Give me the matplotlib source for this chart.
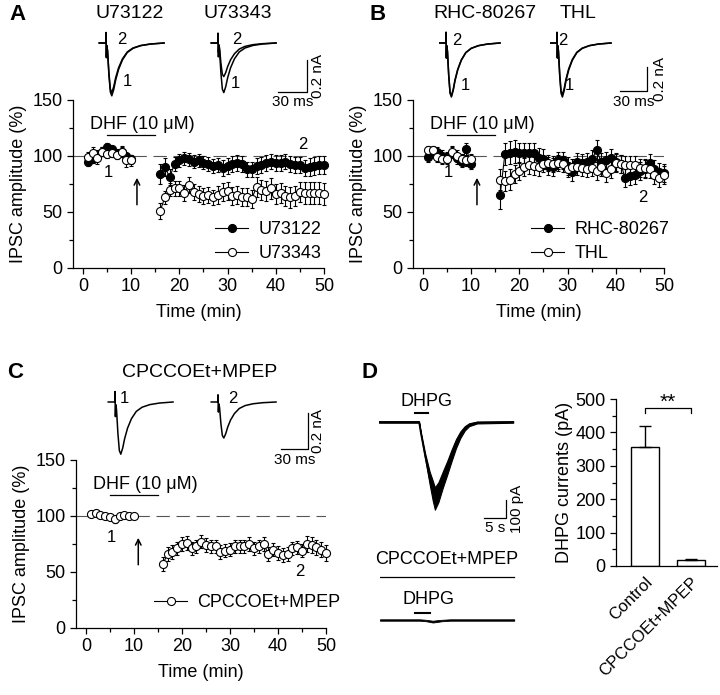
import numpy as np
import matplotlib.pyplot as plt
from matplotlib.lines import Line2D

plt.rcParams['font.family'] = ['Liberation Sans', 'DejaVu Sans']

# ---- data ----
minutes = list(range(1, 11)) + list(range(16, 51))

A_u73122 = [95, 97, 101, 104, 108, 106, 102, 104, 100, 97,
            84, 90, 81, 93, 96, 98, 97, 95, 96, 94,
            93, 91, 92, 89, 91, 93, 94, 93, 88, 88,
            91, 92, 94, 95, 94, 94, 95, 93, 92, 92,
            89, 90, 91, 92, 92]
A_u73122_err = [4, 3, 4, 4, 4, 3, 4, 4, 3, 4,
                9, 8, 7, 6, 6, 6, 6, 6, 6, 6,
                6, 6, 6, 7, 7, 7, 7, 7, 7, 7,
                7, 7, 7, 7, 7, 7, 7, 7, 7, 7,
                7, 8, 8, 8, 8]
A_u73343 = [99, 103, 98, 104, 102, 103, 101, 104, 96, 96,
            51, 63, 70, 71, 71, 67, 74, 68, 66, 64,
            65, 63, 65, 68, 69, 64, 65, 63, 63, 62,
            72, 70, 69, 71, 66, 67, 64, 63, 64, 68,
            67, 67, 67, 67, 66]
A_u73343_err = [5, 5, 5, 4, 4, 4, 4, 5, 6, 5,
                7, 6, 6, 7, 7, 7, 7, 7, 7, 7,
                7, 7, 8, 8, 8, 8, 8, 8, 8, 8,
                9, 9, 9, 9, 9, 9, 9, 9, 9, 9,
                10, 10, 10, 10, 10]

B_rhc = [99, 103, 104, 100, 99, 103, 98, 95, 106, 93,
         65, 102, 103, 104, 103, 103, 103, 103, 98, 97,
         91, 90, 96, 96, 91, 86, 95, 94, 95, 97,
         105, 95, 96, 98, 95, 93, 80, 82, 83, 87,
         88, 94, 88, 86, 85]
B_rhc_err = [4, 4, 4, 5, 5, 5, 5, 5, 6, 5,
             12, 10, 10, 10, 9, 9, 9, 9, 9, 9,
             8, 8, 8, 8, 8, 8, 8, 8, 8, 8,
             9, 8, 8, 8, 8, 8, 8, 8, 8, 8,
             8, 8, 8, 8, 8]
B_thl = [105, 105, 99, 97, 97, 104, 100, 97, 96, 97,
         79, 78, 79, 84, 87, 90, 92, 91, 90, 93,
         94, 93, 94, 93, 88, 90, 90, 89, 88, 89,
         87, 90, 85, 88, 94, 93, 92, 92, 92, 89,
         89, 88, 83, 80, 83]
B_thl_err = [4, 4, 4, 4, 4, 5, 5, 5, 5, 5,
             9, 9, 9, 8, 8, 8, 8, 8, 8, 7,
             7, 7, 7, 7, 7, 7, 7, 7, 7, 7,
             8, 8, 8, 8, 8, 8, 8, 8, 8, 8,
             8, 8, 8, 8, 8]

C_cpcc = [102, 103, 101, 100, 99, 97, 100, 101, 100, 100,
          57, 66, 68, 71, 75, 76, 71, 73, 77, 74,
          73, 73, 68, 69, 70, 73, 73, 73, 75, 71,
          73, 75, 66, 70, 67, 65, 66, 71, 72, 69,
          75, 74, 72, 70, 67]
C_cpcc_err = [2, 2, 2, 2, 2, 3, 2, 2, 2, 2,
              6, 6, 6, 6, 6, 6, 6, 6, 6, 6,
              6, 6, 6, 6, 6, 6, 6, 6, 6, 6,
              6, 6, 6, 6, 6, 6, 6, 6, 6, 6,
              7, 7, 7, 7, 7]

# example IPSC traces (time in ms after stimulus, current as fraction of peak)
ipsc_t = [-7, 0, 0, 0.4, 0.8, 1.6, 3, 4.5, 6, 8, 10, 13, 17, 22, 28, 36, 46, 60]
ipsc_shape = [0, 0, 0.2, -0.28, -0.05, -0.15, -0.6, -0.93, -1.0, -0.88, -0.7,
              -0.5, -0.32, -0.18, -0.1, -0.05, -0.02, 0]
peaks_A = {'U73122': [0.33, 0.31], 'U73343': [0.31, 0.21]}
peaks_B = {'RHC-80267': [0.45, 0.44], 'THL': [0.45, 0.43]}
peaks_C = [0.29, 0.20]

# DHPG current traces (s, pA)
dhpg_t = [0, 9.1, 9.5, 10.5, 11.5, 12.2, 12.7, 13.5, 14.5, 15.5, 16.5, 17.5,
          18.5, 19.5, 20.5, 22.3, 30.5]
dhpg_mean = [0, 0, -60, -190, -310, -380, -425, -390, -320, -255, -185, -120,
             -70, -35, -15, -3, 0]
dhpg_noise = [4, 4, 6, 14, 35, 55, 62, 55, 45, 38, 32, 25, 18, 12, 8, 5, 4]
block_t = [0, 9, 10.5, 12, 13, 14, 16, 30.5]
block_mean = [0, 0, -3, -9, -6, -3, 0, 0]
block_noise = [4, 4, 4, 5, 5, 4, 4, 4]

bar_groups = ['Control', 'CPCCOEt+MPEP']
bar_means = [357, 18]
bar_sems = [63, 3]

# ---- layout helpers (pixel boxes in a 720x695 canvas) ----
W, H = 720, 695
fig = plt.figure(figsize=(7.2, 6.95), dpi=100)


def box(l, t, r, b):
    return [l / W, 1 - b / H, (r - l) / W, (b - t) / H]


def ftext(x, y, s, **kw):
    fig.text(x / W, 1 - y / H, s, **kw)


def trace_ax(x0, base, px_x, px_y, xlo, xhi, ylo, yhi):
    ax = fig.add_axes(box(x0 + xlo * px_x, base - yhi * px_y,
                          x0 + xhi * px_x, base - ylo * px_y))
    ax.set_xlim(xlo, xhi)
    ax.set_ylim(ylo, yhi)
    ax.axis('off')
    return ax


FS = 13
MS = 5.8


def style_axes(ax):
    for s in ['top', 'right']:
        ax.spines[s].set_visible(False)
    for s in ['left', 'bottom']:
        ax.spines[s].set_linewidth(0.9)
    ax.tick_params(which='major', direction='out', length=4, width=0.9, labelsize=FS)
    ax.tick_params(which='minor', direction='out', length=3, width=0.9)


def time_course(ax, series, labels, legend_x, one1, one2, arrow_x):
    style_axes(ax)
    ax.axhline(100, color='#555555', lw=0.8, ls=(0, (12, 6)), zorder=1)
    for vals, errs, face in series:
        for sl in (slice(0, 10), slice(10, None)):
            ax.errorbar(minutes[sl], vals[sl], yerr=errs[sl], fmt='-o', color='black',
                        mfc=face, mec='black', ms=MS, mew=0.8, lw=0.8,
                        elinewidth=0.8, capsize=1.5, clip_on=False, zorder=3)
    ax.set_xlim(-2.07, 50)
    ax.set_ylim(0, 150)
    ax.set_xticks(range(0, 51, 10))
    ax.set_xticks(range(0, 51, 5), minor=True)
    ax.set_yticks([0, 50, 100, 150])
    ax.set_yticks([25, 75, 125], minor=True)
    ax.set_xlabel('Time (min)', fontsize=FS, labelpad=6)
    ax.set_ylabel('IPSC amplitude (%)', fontsize=FS, labelpad=4)
    ax.plot([5, 15], [119, 119], color='black', lw=0.9)
    ax.text(1.4, 128, 'DHF (10 μM)', fontsize=FS, va='center', ha='left')
    ax.annotate('', xy=(arrow_x, 83), xytext=(arrow_x, 54),
                arrowprops=dict(arrowstyle='->', color='black', lw=1.1))
    ax.text(one1[0], one1[1], '1', fontsize=FS - 1, ha='center', va='center')
    ax.text(one2[0], one2[1], '2', fontsize=FS - 1, ha='center', va='center')
    handles = [Line2D([], [], color='black', marker='o', mfc=face, mec='black',
                      ms=MS, mew=0.8, lw=0.8) for _, _, face in series]
    ax.legend(handles, labels, loc='upper left', bbox_to_anchor=(legend_x, 0.28),
              frameon=False, fontsize=FS, borderpad=0, borderaxespad=0,
              handlelength=1.85, handletextpad=0.55, labelspacing=0.4)


def draw_pair(ax, peaks, lab1, lab2):
    for amp in peaks:
        ax.plot(ipsc_t, [s * amp for s in ipsc_shape], color='black', lw=1.1)
    ax.text(lab2[0], lab2[1], '2', fontsize=FS - 1, ha='center', va='center')
    ax.text(lab1[0], lab1[1], '1', fontsize=FS - 1, ha='center', va='center')


def scale_bar(ax, x0, x1, y0, y1, xlab, ylab, xlab_y, ylab_x):
    ax.plot([x0, x1, x1], [y0, y0, y1], color='black', lw=0.9, clip_on=False)
    ax.text((x0 + x1) / 2, xlab_y, xlab, fontsize=FS - 2, ha='center', va='center')
    ax.text(ylab_x, (y0 + y1) / 2, ylab, fontsize=FS - 2, ha='center', va='center',
            rotation=90)


# ---- panel A ----
axA = fig.add_axes(box(73, 100, 324, 268))
time_course(axA, [(A_u73122, A_u73122_err, 'black'), (A_u73343, A_u73343_err, 'white')],
            ['U73122', 'U73343'], 0.566, (5.2, 85), (45.7, 110), 11.2)
names = list(peaks_A)
t1 = trace_ax(106, 43, 0.967, 160, -8, 70, -0.4, 0.1)
draw_pair(t1, peaks_A[names[0]], (22, -0.24), (16, 0.02))
t2 = trace_ax(218, 43, 0.967, 160, -8, 110, -0.4, 0.1)
draw_pair(t2, peaks_A[names[1]], (18, -0.25), (19, 0.02))
scale_bar(t2, 62, 92, -0.306, -0.106, '30 ms', '0.2 nA', -0.37, 103)
ftext(130, 14, names[0], fontsize=FS + 1, ha='center', va='center')
ftext(238, 14, names[1], fontsize=FS + 1, ha='center', va='center')
ftext(18, 15, 'A', fontsize=16, fontweight='bold', ha='center', va='center')

# ---- panel B ----
axB = fig.add_axes(box(413, 100, 664, 268))
time_course(axB, [(B_rhc, B_rhc_err, 'black'), (B_thl, B_thl_err, 'white')],
            ['RHC-80267', 'THL'], 0.47, (5.2, 85), (45.6, 63), 11.2)
names = list(peaks_B)
t1 = trace_ax(446, 43, 0.9, 120, -8, 70, -0.5, 0.12)
draw_pair(t1, peaks_B[names[0]], (21, -0.35), (12, 0.02))
t2 = trace_ax(557, 43, 0.9, 120, -8, 120, -0.5, 0.12)
draw_pair(t2, peaks_B[names[1]], (14, -0.35), (7, 0.02))
scale_bar(t2, 70, 100, -0.4, -0.2, '30 ms', '0.2 nA', -0.49, 114)
ftext(485, 14, names[0], fontsize=FS + 1, ha='center', va='center')
ftext(578, 14, names[1], fontsize=FS + 1, ha='center', va='center')
ftext(378, 15, 'B', fontsize=16, fontweight='bold', ha='center', va='center')

# ---- panel C ----
axC = fig.add_axes(box(76, 460, 326, 628))
time_course(axC, [(C_cpcc, C_cpcc_err, 'white')], ['CPCCOEt+MPEP'],
            0.312, (5.4, 81), (44.6, 50), 10.9)
axC.get_legend().set_bbox_to_anchor((0.312, 0.2))
t1 = trace_ax(115, 402, 0.967, 180, -8, 70, -0.35, 0.1)
t1.plot(ipsc_t, [s * peaks_C[0] for s in ipsc_shape], color='black', lw=1.1)
t1.text(10, 0.02, '1', fontsize=FS - 1, ha='center', va='center')
t2 = trace_ax(218, 402, 0.967, 180, -8, 110, -0.35, 0.1)
t2.plot(ipsc_t, [s * peaks_C[1] for s in ipsc_shape], color='black', lw=1.1)
t2.text(15, 0.02, '2', fontsize=FS - 1, ha='center', va='center')
scale_bar(t2, 65, 93, -0.261, -0.061, '30 ms', '0.2 nA', -0.32, 103)
ftext(200, 373, 'CPCCOEt+MPEP', fontsize=FS + 1, ha='center', va='center')
ftext(15, 373, 'C', fontsize=16, fontweight='bold', ha='center', va='center')

# ---- panel D traces ----
d1 = trace_ax(379, 422, 4.4, 0.18, 0, 35, -600, 60)
m = np.array(dhpg_mean)
n = np.array(dhpg_noise)
d1.fill_between(dhpg_t, m - n, m + n, color='black', lw=0.8)
d1.plot(dhpg_t, m, color='black', lw=1.2)
d1.plot([8.2, 11.1], [50, 50], color='black', lw=1.5)
scale_bar(d1, 23.9, 28.9, -533, -433, '5 s', '100 pA', -590, 31.4)
ftext(426, 401, 'DHPG', fontsize=FS, ha='center', va='center')

d2 = trace_ax(380, 620, 4.4, 0.18, 0, 35, -60, 260)
m = np.array(block_mean)
n = np.array(block_noise)
d2.fill_between(block_t, m - n, m + n, color='black', lw=0.6)
d2.plot([8, 11.4], [39, 39], color='black', lw=1.5)
d2.plot([0, 30.5], [239, 239], color='black', lw=0.9)
ftext(447, 560, 'CPCCOEt+MPEP', fontsize=FS, ha='center', va='center')
ftext(428, 600, 'DHPG', fontsize=FS, ha='center', va='center')
ftext(370, 373, 'D', fontsize=16, fontweight='bold', ha='center', va='center')

# ---- panel D bars ----
axD = fig.add_axes(box(616, 399, 717, 566))
style_axes(axD)
xpos = np.arange(len(bar_groups))
axD.bar(xpos, bar_means, width=0.6, color='white', edgecolor='black', lw=1)
axD.errorbar(xpos, bar_means, yerr=[[0, 0], bar_sems], fmt='none', ecolor='black',
             elinewidth=1, capsize=4, capthick=1)
axD.set_xlim(-0.63, 1.57)
axD.set_ylim(0, 500)
axD.set_yticks(range(0, 501, 100))
axD.set_yticks(range(50, 500, 100), minor=True)
axD.set_xticks(xpos)
axD.set_xticklabels(bar_groups, rotation=45, ha='right', rotation_mode='anchor',
                    fontsize=FS - 1)
axD.tick_params(axis='x', length=0, pad=6)
axD.set_ylabel('DHPG currents (pA)', fontsize=FS, labelpad=2)
axD.plot([0, 0, 1, 1], [458, 473, 473, 458], color='black', lw=0.9, clip_on=False)
axD.text(0.5, 490, '**', fontsize=FS + 2, ha='center', va='center')

fig.savefig('out.png', dpi=100)
